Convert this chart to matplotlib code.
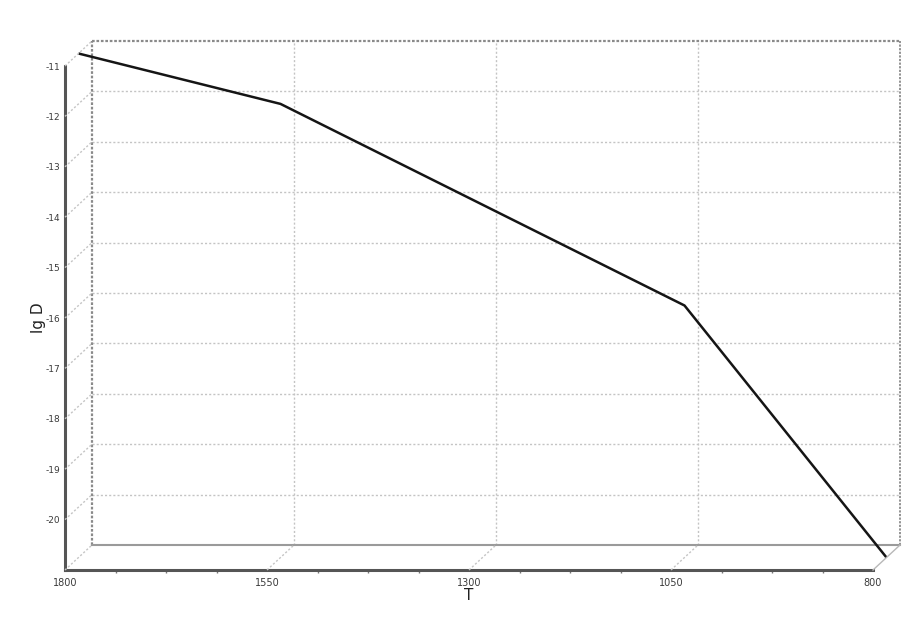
import matplotlib
matplotlib.use("Agg")
import matplotlib.pyplot as plt
import matplotlib.transforms as mtransforms
from matplotlib.lines import Line2D
import numpy as np

# Data
T_values = [1800, 1550, 1050, 800]
lgD_values = [-11, -12, -16, -21]
x_major_ticks = [1800, 1550, 1300, 1050, 800]
x_tick_labels = ["1800", "1550", "1300", "1050", "800"]
y_major_ticks = [-20, -19, -18, -17, -16, -15, -14, -13, -12, -11]
y_tick_labels = ["-20", "-19", "-18", "-17", "-16", "-15", "-14", "-13", "-12", "-11"]
x_limits = (1800, 800)
y_limits = (-21, -11)

W, H = 924, 627
fig = plt.figure(figsize=(W / 100, H / 100), dpi=100)
left_px, right_px, top_px, bottom_px = 65, 873, 66, 570
ax = fig.add_axes([left_px / W, (H - bottom_px) / H,
                   (right_px - left_px) / W, (bottom_px - top_px) / H])
ax.set_xlim(*x_limits)
ax.set_ylim(*y_limits)
ax.patch.set_alpha(0)

# depth offsets in pixels
DX, DY = 27, 25
back = ax.transData + mtransforms.Affine2D().translate(DX, DY)
mid = ax.transData + mtransforms.Affine2D().translate(DX / 2, DY / 2)

grid_c = "#c4c4c4"
border_c = "#8a8a8a"

# back plane grid
for y in y_major_ticks[:-1]:
    ax.plot(list(x_limits), [y, y], transform=back, color=grid_c, lw=1.0,
            ls=(0, (1.5, 1.5)), clip_on=False, zorder=1)
for x in x_major_ticks[1:-1]:
    ax.plot([x, x], list(y_limits), transform=back, color=grid_c, lw=1.0,
            ls=(0, (1.5, 1.5)), clip_on=False, zorder=1)
# back plane border
ax.plot([x_limits[0], x_limits[0]], list(y_limits), transform=back, color=border_c,
        lw=1.6, ls=(0, (1.2, 0.8)), clip_on=False, zorder=2)
ax.plot([x_limits[1], x_limits[1]], list(y_limits), transform=back, color=border_c,
        lw=1.3, ls=(0, (1.2, 0.8)), clip_on=False, zorder=2)
ax.plot(list(x_limits), [y_limits[1], y_limits[1]], transform=back, color=border_c,
        lw=1.6, ls=(0, (1.2, 0.8)), clip_on=False, zorder=2)
ax.plot(list(x_limits), [y_limits[0], y_limits[0]], transform=back, color="#9a9a9a",
        lw=1.5, clip_on=False, zorder=2)

# depth diagonals
def diag(x, y, ls, color=grid_c):
    p = ax.transData.transform((x, y))
    fig.add_artist(Line2D([p[0], p[0] + DX], [p[1], p[1] + DY], transform=None,
                          color=color, lw=1.0, ls=ls, zorder=1))

for y in [y_limits[0]] + y_major_ticks:
    diag(x_limits[0], y, (0, (1.5, 1.5)))
for x in x_major_ticks[1:-1]:
    diag(x, y_limits[0], (0, (1.5, 1.5)))
diag(x_limits[1], y_limits[0], "-", "#b8b8b8")

# data line at mid-depth
ax.plot(T_values, lgD_values, transform=mid, color="#151515", lw=1.8,
        clip_on=False, zorder=5, solid_capstyle="butt")

# front axes
for s in ["top", "right"]:
    ax.spines[s].set_visible(False)
for s in ["left", "bottom"]:
    ax.spines[s].set_color("#555555")
    ax.spines[s].set_linewidth(2.2)

ax.set_xticks(x_major_ticks)
ax.set_xticklabels(x_tick_labels)
ax.set_xticks(np.arange(800, 1800, 62.5), minor=True)
ax.set_yticks(y_major_ticks)
ax.set_yticklabels(y_tick_labels)
ax.tick_params(axis="both", which="major", length=0, labelcolor="#3a3a3a")
ax.tick_params(axis="x", which="major", pad=6, labelsize=7)
ax.tick_params(axis="y", which="major", pad=3.5, labelsize=6.5)
ax.tick_params(axis="x", which="minor", length=2, width=1, color="#777777", direction="out")

ax.set_xlabel("T", fontsize=11, color="#222222", labelpad=0)
ax.set_ylabel("lg D", fontsize=11, color="#222222", labelpad=-0.3)

fig.savefig("out.png", dpi=100)
